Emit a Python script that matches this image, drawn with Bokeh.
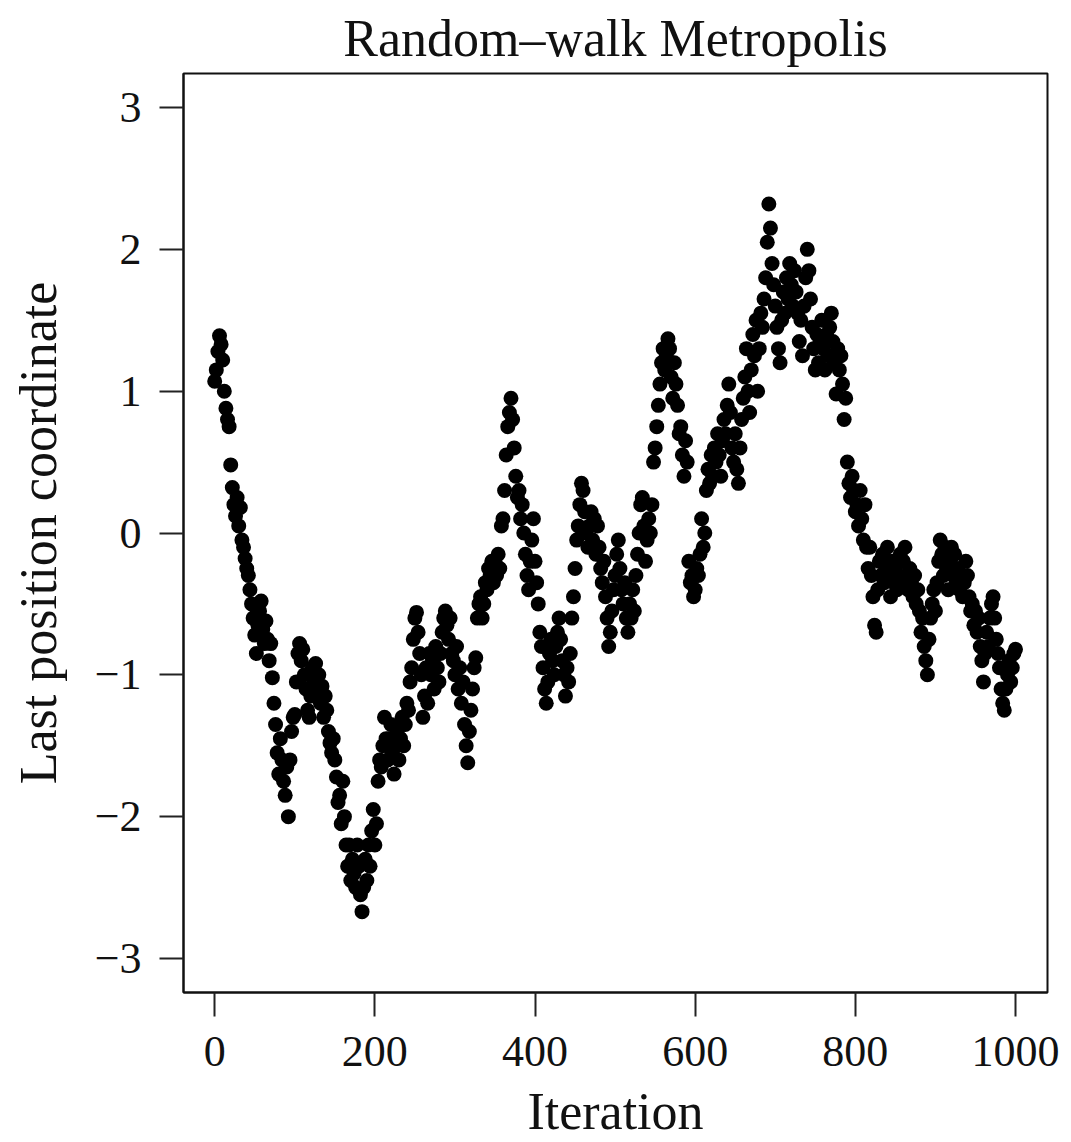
from bokeh.plotting import figure
from bokeh.models import Range1d, FixedTicker, ColumnDataSource
from bokeh.embed import file_html
from bokeh.resources import INLINE

# ---- data (value at every 2nd iteration) ----
pos_000_100 = [1.07, 1.15, 1.28, 1.39, 1.33, 1.22, 1.0, 0.88, 0.8, 0.75,
               0.48, 0.32, 0.2, 0.12, 0.25, 0.05, 0.18, -0.05, -0.1, -0.18,
               -0.25, -0.3, -0.4, -0.5, -0.6, -0.72, -0.85, -0.65, -0.55, -0.48,
               -0.68, -0.78, -0.62, -0.75, -0.9, -0.78, -1.02, -1.2, -1.35, -1.55,
               -1.7, -1.45, -1.6, -1.75, -1.85, -1.65, -2.0, -1.6, -1.4, -1.3,
               -1.28]
pos_102_214 = [-1.05, -0.85, -0.78, -0.9, -0.82, -1.0, -1.1, -1.25, -1.3, -1.15,
               -0.95, -1.05, -0.92, -1.1, -1.0, -1.2, -1.08, -1.3, -1.15, -1.25,
               -1.4, -1.48, -1.55, -1.45, -1.6, -1.72, -1.9, -1.85, -2.05, -1.75,
               -2.0, -2.2, -2.35, -2.2, -2.45, -2.3, -2.4, -2.5, -2.2, -2.35,
               -2.55, -2.67, -2.5, -2.3, -2.45, -2.2, -2.35, -2.1, -1.95, -2.2,
               -2.05, -1.75, -1.6, -1.65, -1.5, -1.3, -1.45]
pos_216_332 = [-1.6, -1.45, -1.35, -1.55, -1.7, -1.5, -1.4, -1.6, -1.45, -1.3,
               -1.5, -1.35, -1.2, -1.25, -1.05, -0.95, -0.75, -0.6, -0.56, -0.7,
               -0.85, -1.0, -1.3, -1.15, -0.95, -1.2, -0.85, -1.0, -0.9, -1.1,
               -0.8, -0.95, -1.05, -0.85, -0.7, -0.6, -0.55, -0.65, -0.75, -0.6,
               -0.85, -0.9, -1.0, -0.8, -1.1, -0.95, -1.2, -1.05, -1.35, -1.5,
               -1.62, -1.4, -1.25, -1.1, -0.95, -0.88, -0.6, -0.5, -0.45]
pos_334_442 = [-0.6, -0.5, -0.35, -0.4, -0.25, -0.3, -0.2, -0.35, -0.2, -0.3,
               -0.15, -0.25, 0.05, 0.1, 0.3, 0.55, 0.75, 0.85, 0.95, 0.8,
               0.6, 0.4, 0.25, 0.3, 0.1, 0.2, 0.0, -0.15, -0.3, -0.4,
               -0.2, -0.05, 0.1, -0.2, -0.35, -0.5, -0.7, -0.8, -0.95, -1.1,
               -1.2, -1.05, -0.85, -0.75, -0.9, -1.0, -0.8, -0.7, -0.6, -0.75,
               -0.9, -1.0, -1.15, -0.95, -1.05]
pos_444_550 = [-0.85, -0.6, -0.45, -0.25, -0.05, 0.05, 0.2, 0.35, 0.3, 0.15,
               0.0, -0.1, 0.05, 0.15, -0.05, 0.1, -0.15, 0.05, -0.1, -0.25,
               -0.35, -0.2, -0.45, -0.6, -0.8, -0.7, -0.55, -0.4, -0.3, -0.15,
               -0.05, -0.25, -0.4, -0.5, -0.35, -0.6, -0.7, -0.5, -0.6, -0.4,
               -0.55, -0.3, -0.15, 0.0, 0.2, 0.25, 0.05, -0.2, -0.05, 0.1,
               0.0, 0.2, 0.5, 0.6]
pos_552_666 = [0.75, 0.9, 1.05, 1.2, 1.3, 1.15, 1.25, 1.37, 1.3, 1.1,
               0.95, 1.2, 1.05, 0.9, 0.7, 0.75, 0.55, 0.4, 0.65, 0.5,
               -0.2, -0.35, -0.3, -0.45, -0.4, -0.25, -0.3, -0.15, 0.1, -0.1,
               0.0, 0.3, 0.45, 0.35, 0.55, 0.4, 0.6, 0.5, 0.7, 0.55,
               0.4, 0.65, 0.8, 0.7, 0.9, 1.05, 0.85, 0.6, 0.5, 0.7,
               0.45, 0.35, 0.6, 0.8, 0.95, 1.1, 1.3, 1.0]
pos_668_788 = [0.85, 1.15, 1.4, 1.25, 1.5, 1.0, 1.3, 1.55, 1.45, 1.65,
               1.8, 2.05, 2.32, 2.15, 1.9, 1.75, 1.6, 1.45, 1.3, 1.2,
               1.5, 1.7, 1.55, 1.8, 1.65, 1.9, 1.75, 1.6, 1.85, 1.7,
               1.55, 1.35, 1.5, 1.25, 1.6, 1.8, 2.0, 1.85, 1.65, 1.45,
               1.3, 1.15, 1.4, 1.2, 1.35, 1.5, 1.3, 1.15, 1.4, 1.25,
               1.45, 1.55, 1.35, 1.2, 0.98, 1.3, 1.15, 1.25, 1.05, 0.8,
               0.95]
pos_790_894 = [0.5, 0.35, 0.25, 0.4, 0.3, 0.15, 0.2, 0.05, 0.3, 0.1,
               -0.05, 0.2, -0.1, -0.25, -0.1, -0.3, -0.45, -0.65, -0.7, -0.4,
               -0.2, -0.3, -0.15, -0.35, -0.25, -0.1, -0.3, -0.45, -0.2, -0.35,
               -0.25, -0.4, -0.3, -0.15, -0.35, -0.2, -0.1, -0.3, -0.4, -0.25,
               -0.35, -0.45, -0.3, -0.5, -0.4, -0.55, -0.7, -0.6, -0.8, -0.9,
               -1.0, -0.75, -0.6]
pos_896_1000 = [-0.5, -0.4, -0.55, -0.35, -0.2, -0.05, -0.15, -0.3, -0.1, -0.25,
                -0.4, -0.2, -0.1, -0.3, -0.15, -0.35, -0.25, -0.4, -0.3, -0.45,
                -0.35, -0.2, -0.3, -0.45, -0.55, -0.5, -0.65, -0.55, -0.7, -0.6,
                -0.8, -0.9, -1.05, -0.85, -0.7, -0.8, -0.6, -0.5, -0.45, -0.6,
                -0.75, -0.85, -0.95, -1.1, -1.2, -1.25, -1.1, -1.0, -0.9, -1.05,
                -0.95, -0.85, -0.82]

x_ticks = [0, 200, 400, 600, 800, 1000]
y_ticks = [-3, -2, -1, 0, 1, 2, 3]
y_tick_labels = ["\u22123", "\u22122", "\u22121", "0", "1", "2", "3"]

position = (pos_000_100 + pos_102_214 + pos_216_332 + pos_334_442 + pos_444_550
            + pos_552_666 + pos_668_788 + pos_790_894 + pos_896_1000)
iteration = [2 * i for i in range(len(position))]

src = ColumnDataSource(data=dict(iteration=iteration, position=position))

SERIF = "Liberation Serif"

p = figure(width=1071, height=1142, output_backend="svg", toolbar_location=None,
           x_range=Range1d(-38.96, 1039.96), y_range=Range1d(-3.24, 3.24),
           min_border_left=183, min_border_right=24, min_border_top=72,
           min_border_bottom=150, title="Random\u2013walk Metropolis",
           x_axis_label="Iteration", y_axis_label="Last position coordinate")

p.title.align = "center"
p.title.text_font = SERIF
p.title.text_font_size = "52px"
p.title.text_font_style = "normal"
p.title.text_color = "#111111"
p.title.standoff = 14

p.grid.visible = False
p.outline_line_color = "#111111"
p.outline_line_width = 2
p.background_fill_color = "white"
p.border_fill_color = "white"

p.xaxis.ticker = FixedTicker(ticks=x_ticks)
p.yaxis.ticker = FixedTicker(ticks=y_ticks)
p.yaxis.major_label_overrides = {t: l for t, l in zip(y_ticks, y_tick_labels)}

for ax in (p.xaxis[0], p.yaxis[0]):
    ax.axis_line_color = "#111111"
    ax.axis_line_width = 2
    ax.major_tick_line_color = "#222222"
    ax.major_tick_line_width = 2
    ax.major_tick_out = 24
    ax.major_tick_in = 0
    ax.minor_tick_out = 0
    ax.minor_tick_in = 0
    ax.major_label_text_font = SERIF
    ax.major_label_text_font_size = "44px"
    ax.major_label_text_color = "#111111"
    ax.axis_label_text_font = SERIF
    ax.axis_label_text_font_size = "52px"
    ax.axis_label_text_font_style = "normal"
    ax.axis_label_text_color = "#111111"

p.xaxis.major_label_standoff = 20
p.xaxis.axis_label_standoff = 14
p.yaxis.major_label_standoff = 18
p.yaxis.axis_label_standoff = 25

p.scatter(x="iteration", y="position", source=src, size=15,
          fill_color="black", line_color=None)

open("out.html", "w").write(file_html(p, INLINE))
